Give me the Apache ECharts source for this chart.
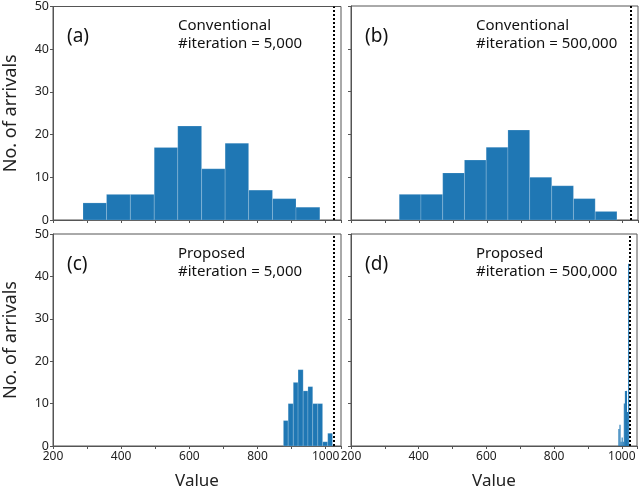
<!DOCTYPE html>
<html>
<head>
<meta charset="utf-8">
<script src="https://cdn.jsdelivr.net/npm/echarts@6/dist/echarts.min.js"></script>
<style>
  html, body { margin: 0; padding: 0; background: #fff; }
  #chart { width: 640px; height: 491px; }
</style>
</head>
<body>
<div id="chart"></div>
<script>
// histogram bin edges and counts
var edgesA = [288, 357, 427, 497, 566, 636, 705, 774, 844, 913, 983];
var countsA = [4, 6, 6, 17, 22, 12, 18, 7, 5, 3];
var edgesB = [342, 406, 470, 534, 598, 662, 726, 791, 855, 919, 983];
var countsB = [6, 6, 11, 14, 17, 21, 10, 8, 5, 2];
var edgesC = [876, 890, 905, 919, 934, 948, 962, 977, 991, 1006, 1020];
var countsC = [6, 10, 15, 18, 13, 14, 10, 10, 1, 3];
var edgesD = [990, 993.2, 996.4, 999.6, 1002.8, 1006, 1009.2, 1012.4, 1015.6, 1018.8, 1022];
var countsD = [4, 5, 1, 2, 1, 10, 13, 13, 8, 43];

var optimum = 1024;
var xTicks = [200, 400, 600, 800, 1000];
var panelTags = ['(a)', '(b)', '(c)', '(d)'];
var panelNotes = [
  'Conventional\n#iteration = 5,000',
  'Conventional\n#iteration = 500,000',
  'Proposed\n#iteration = 5,000',
  'Proposed\n#iteration = 500,000'
];

var font = 'Noto Sans';
var axisColor = '#555';
var barColor = '#1f77b4';

function toBins(edges, counts) {
  return counts.map(function(c, i) { return [edges[i], edges[i + 1], c]; });
}

var grids = [
  { left: 53, top: 6, width: 288, height: 214 },
  { left: 351, top: 6, width: 287, height: 214 },
  { left: 53, top: 234, width: 288, height: 213 },
  { left: 351, top: 234, width: 287, height: 213 }
];

var chart = echarts.init(document.getElementById('chart'), null, { renderer: 'canvas' });

var xAxes = [], yAxes = [], series = [], graphics = [];
var binSets = [toBins(edgesA, countsA), toBins(edgesB, countsB), toBins(edgesC, countsC), toBins(edgesD, countsD)];

grids.forEach(function(g, i) {
  var bottomRow = i >= 2;
  var leftCol = i % 2 === 0;
  g.show = true;
  g.borderColor = axisColor;
  g.borderWidth = 1;
  g.backgroundColor = 'transparent';

  xAxes.push({
    gridIndex: i,
    type: 'value',
    min: 200,
    max: 1045,
    interval: 100,
    name: bottomRow ? 'Value' : '',
    nameLocation: 'middle',
    nameGap: 27,
    nameTextStyle: { color: '#222', fontSize: 17, fontFamily: font },
    axisLine: { show: true, lineStyle: { color: axisColor, width: 1 } },
    axisTick: { show: true, length: 3, lineStyle: { color: axisColor } },
    splitLine: { show: false },
    axisLabel: {
      show: bottomRow,
      color: '#222',
      fontSize: 12,
      fontFamily: font,
      margin: 5,
      formatter: function(v) { return xTicks.indexOf(v) >= 0 ? String(v) : ''; }
    }
  });

  yAxes.push({
    gridIndex: i,
    type: 'value',
    min: 0,
    max: 50,
    interval: 10,
    name: leftCol ? 'No. of arrivals' : '',
    nameLocation: 'middle',
    nameGap: 33,
    nameTextStyle: { color: '#222', fontSize: 18, fontFamily: font },
    axisLine: { show: true, lineStyle: { color: axisColor, width: 1 } },
    axisTick: { show: true, length: 3, lineStyle: { color: axisColor } },
    splitLine: { show: false },
    axisLabel: { show: leftCol, color: '#222', fontSize: 12.5, fontFamily: font, margin: 4 }
  });

  var narrow = i === 3;
  series.push({
    type: 'custom',
    xAxisIndex: i,
    yAxisIndex: i,
    data: binSets[i],
    encode: { x: [0, 1], y: 2 },
    renderItem: function(params, api) {
      var p0 = api.coord([api.value(0), api.value(2)]);
      var p1 = api.coord([api.value(1), 0]);
      return {
        type: 'rect',
        shape: { x: p0[0], y: p0[1], width: p1[0] - p0[0], height: p1[1] - p0[1] },
        style: narrow
          ? { fill: barColor }
          : { fill: barColor, stroke: 'rgba(255,255,255,0.35)', lineWidth: 0.5 }
      };
    },
    markLine: {
      silent: true,
      symbol: 'none',
      label: { show: false },
      lineStyle: { color: '#000', type: [2, 2], width: 2 },
      data: [{ xAxis: optimum }]
    },
    z: 2
  });

  graphics.push({
    type: 'text',
    left: g.left + 14,
    top: g.top + 21,
    style: { text: panelTags[i], fontSize: 19, fontFamily: font, fill: '#111' }
  });
  graphics.push({
    type: 'text',
    left: g.left + 125,
    top: g.top + 11,
    style: { text: panelNotes[i], fontSize: 15, lineHeight: 18, fontFamily: font, fill: '#111' }
  });
});

chart.setOption({
  animation: false,
  grid: grids,
  xAxis: xAxes,
  yAxis: yAxes,
  series: series,
  graphic: graphics
});
window.addEventListener('resize', function() { chart.resize(); });
</script>
</body>
</html>
